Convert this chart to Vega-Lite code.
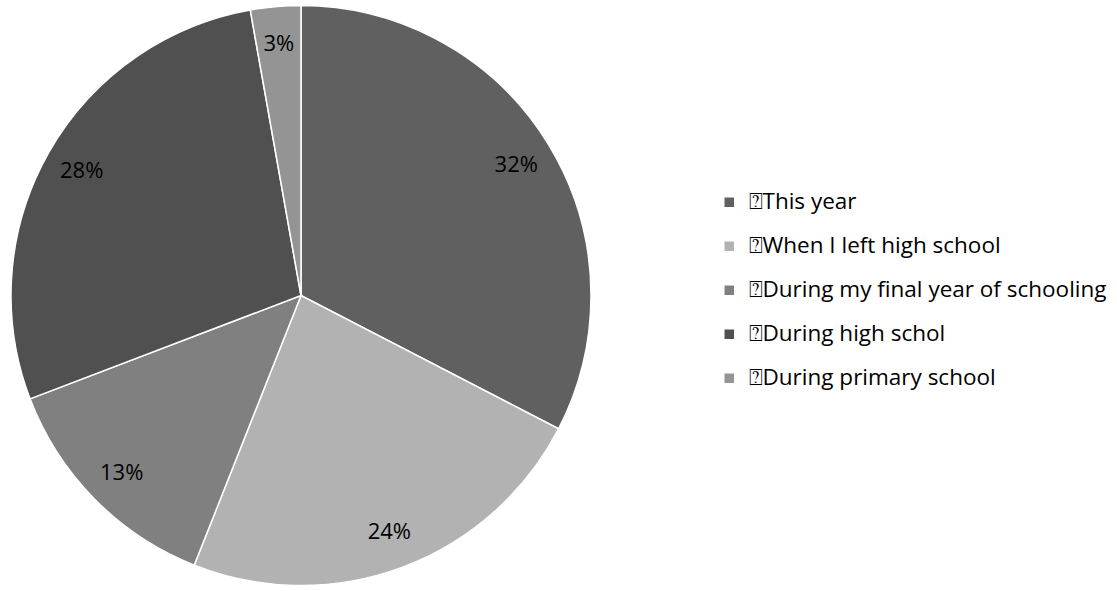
{
  "$schema": "https://vega.github.io/schema/vega-lite/v6.json",
  "width": 602,
  "height": 591,
  "autosize": {"type": "pad"},
  "padding": 0,
  "background": "white",
  "view": {"stroke": null},
  "data": {
    "values": [
      {"category": "⍰This year", "value": 32.6, "label": "32%", "order": 1},
      {"category": "⍰When I left high school", "value": 23.4, "label": "24%", "order": 2},
      {"category": "⍰During my final year of schooling", "value": 13.2, "label": "13%", "order": 3},
      {"category": "⍰During high schol", "value": 28.0, "label": "28%", "order": 4},
      {"category": "⍰During primary school", "value": 2.8, "label": "3%", "order": 5}
    ]
  },
  "encoding": {
    "theta": {"field": "value", "type": "quantitative", "stack": true},
    "order": {"field": "order", "type": "quantitative"}
  },
  "layer": [
    {
      "mark": {"type": "arc", "outerRadius": 290, "stroke": "white", "strokeWidth": 1.5},
      "encoding": {
        "color": {
          "field": "category",
          "type": "nominal",
          "sort": null,
          "scale": {
            "domain": ["⍰This year", "⍰When I left high school", "⍰During my final year of schooling", "⍰During high schol", "⍰During primary school"],
            "range": ["#606060", "#b2b2b2", "#808080", "#505050", "#949494"]
          },
          "legend": {
            "orient": "none",
            "legendX": 718,
            "legendY": 191,
            "title": null,
            "symbolType": "square",
            "symbolSize": 90,
            "symbolStrokeWidth": 0,
            "labelFontSize": 22.5,
            "labelFont": "Open Sans",
            "labelColor": "black",
            "labelOffset": 8,
            "rowPadding": 21,
            "labelLimit": 500
          }
        }
      }
    },
    {
      "mark": {"type": "text", "radius": 252, "fontSize": 22, "font": "Open Sans", "fill": "black"},
      "encoding": {
        "text": {"field": "label", "type": "nominal"}
      }
    }
  ]
}
